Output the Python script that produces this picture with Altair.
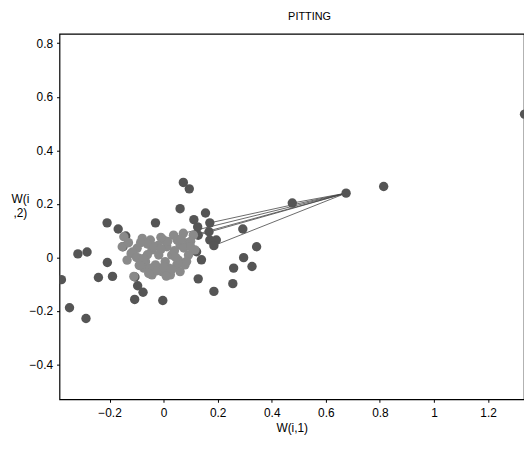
import altair as alt
import pandas as pd

# Outer (darker) points
outer_x = [0.073, 0.095, 0.061, -0.209, -0.030, -0.168, -0.140, -0.150, -0.317, -0.283,
           -0.208, -0.241, -0.189, -0.378, -0.106, -0.096, -0.076, -0.107, -0.003, -0.348,
           -0.287, 0.128, 0.140, 0.122, 0.112, 0.155, 0.171, 0.126, 0.168, 0.128,
           0.171, 0.195, 0.186, 0.293, 0.476, 0.344, 0.296, 0.327, 0.259, 0.256,
           0.186, 0.675, 0.814, 1.335]
outer_y = [0.280, 0.256, 0.182, 0.129, 0.129, 0.106, 0.080, 0.040, 0.013, 0.020,
           -0.019, -0.075, -0.071, -0.083, -0.073, -0.106, -0.130, -0.157, -0.161, -0.188,
           -0.228, -0.080, -0.009, 0.021, 0.141, 0.166, 0.129, 0.114, 0.096, 0.083,
           0.065, 0.065, 0.044, 0.106, 0.203, 0.040, -0.001, -0.034, -0.040, -0.098,
           -0.127, 0.240, 0.265, 0.535]

# Dense central cluster (lighter)
clus_x = [-0.147, -0.153, -0.098, -0.092, -0.049, -0.043, 0.000, 0.037, 0.073, 0.110,
          0.116, -0.018, 0.006, -0.030, 0.030, 0.049, -0.006, -0.043, 0.025, -0.110,
          0.079, -0.067, -0.079, 0.061, 0.012, 0.092, -0.073, 0.061, -0.120, -0.020,
          0.050, 0.090, -0.060, 0.020, -0.130, -0.115, -0.085, -0.060, -0.035, -0.010,
          0.015, 0.040, 0.065, 0.100, -0.100, -0.075, -0.050, -0.025, 0.000, 0.030,
          0.055, 0.085, -0.135, -0.090, -0.010, 0.045, 0.075, -0.055, 0.010, 0.100]
clus_y = [0.077, 0.040, 0.034, -0.003, 0.065, 0.028, 0.065, 0.083, 0.090, 0.083,
          0.028, 0.009, -0.016, -0.028, 0.009, -0.028, -0.053, -0.065, -0.065, -0.071,
          -0.028, -0.016, 0.071, 0.046, 0.040, 0.009, -0.040, -0.053, 0.015, 0.045,
          0.065, 0.055, 0.050, -0.040, 0.055, 0.020, 0.055, 0.010, 0.040, 0.030,
          0.060, 0.025, 0.070, 0.060, 0.000, -0.005, -0.040, -0.050, -0.035, -0.045,
          -0.010, -0.015, -0.010, -0.030, 0.075, 0.000, 0.035, -0.060, -0.070, 0.040]

# Connecting segments from the hub point
seg_x = [0.675, 0.675, 0.675, 0.675, 0.675, 0.675]
seg_y = [0.240, 0.240, 0.240, 0.240, 0.240, 0.240]
seg_x2 = [0.476, 0.171, 0.128, 0.186, 0.073, 0.110]
seg_y2 = [0.203, 0.129, 0.083, 0.044, 0.090, 0.083]

pts = pd.DataFrame({
    "x": outer_x + clus_x,
    "y": outer_y + clus_y,
    "g": ["outer"] * len(outer_x) + ["cluster"] * len(clus_x),
})
segs = pd.DataFrame({"x": seg_x, "y": seg_y, "x2": seg_x2, "y2": seg_y2})

xscale = alt.Scale(domain=[-0.385, 1.333], nice=False, zero=False)
yscale = alt.Scale(domain=[-0.53, 0.835], nice=False, zero=False)

font = "Liberation Sans"

xaxis = alt.Axis(values=[-0.2, 0, 0.2, 0.4, 0.6, 0.8, 1, 1.2], grid=False,
                 title="W(i,1)", labelFont=font, titleFont=font, labelFontSize=12,
                 titleFontSize=12, titleFontWeight="normal", labelColor="black",
                 titleColor="black", tickSize=3, tickColor="black", domain=False,
                 labelPadding=5, titlePadding=5,
                 labelExpr="datum.value == 0 ? '0' : format(datum.value, '.1~f')")
yaxis = alt.Axis(values=[-0.4, -0.2, 0, 0.2, 0.4, 0.6, 0.8], grid=False,
                 title=["W(i", ",2)"], titleAngle=0, titleX=-40, titleY=166,
                 titleAlign="center", titleBaseline="middle", titleLineHeight=14,
                 labelFont=font, titleFont=font, labelFontSize=12, titleFontSize=12,
                 titleFontWeight="normal", labelColor="black", titleColor="black",
                 tickSize=3, tickColor="black", domain=False, labelPadding=4,
                 labelExpr="datum.value == 0 ? '0' : format(datum.value, '.1f')")

lines = alt.Chart(segs).mark_rule(color="#444444", strokeWidth=0.8, clip=True).encode(
    x=alt.X("x:Q", scale=xscale, axis=xaxis),
    y=alt.Y("y:Q", scale=yscale, axis=yaxis),
    x2="x2:Q",
    y2="y2:Q",
)

points = alt.Chart(pts).mark_circle(size=90, opacity=1, clip=True).encode(
    x=alt.X("x:Q", scale=xscale),
    y=alt.Y("y:Q", scale=yscale),
    color=alt.Color("g:N", scale=alt.Scale(domain=["outer", "cluster"],
                                           range=["#555555", "#8a8a8a"]), legend=None),
)

chart = alt.layer(lines, points).properties(
    width=469, height=369,
    title=alt.TitleParams("PITTING", font=font, fontSize=11, fontWeight="normal",
                          color="black", offset=12, anchor="middle", dx=18),
    autosize=alt.AutoSizeParams(type="none"),
    padding={"left": 52, "top": 24, "right": 0, "bottom": 40},
).configure(background="white").configure_view(stroke="black", strokeWidth=1.2)

chart.save("out.html", embed_options={"renderer": "svg", "actions": False})
